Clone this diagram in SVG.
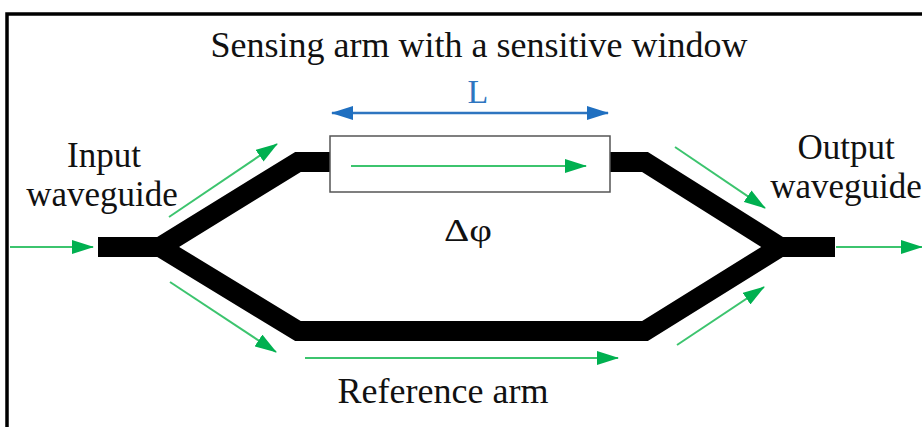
<svg xmlns="http://www.w3.org/2000/svg" width="922" height="427" viewBox="0 0 922 427">
<style>
.t{font-family:"Liberation Serif","Times New Roman",serif;fill:#111;}
.wg{fill:none;stroke:#000;stroke-width:20;stroke-linejoin:miter;}
.g{stroke:#3cc46e;stroke-width:2;fill:none;}
.b{stroke:#2e75c0;stroke-width:2.5;fill:none;}
</style>
<defs>
<marker id="gaL" markerWidth="22" markerHeight="14" refX="21" refY="7" orient="auto" markerUnits="userSpaceOnUse">
<path d="M0,0 L22,7 L0,14 Z" fill="#00b050"/>
</marker>
<marker id="ba" markerWidth="22" markerHeight="14" refX="21" refY="7" orient="auto-start-reverse" markerUnits="userSpaceOnUse">
<path d="M0,0 L22,7 L0,14 Z" fill="#1f6fc0"/>
</marker>
</defs>
<rect x="0" y="0" width="922" height="427" fill="#fff"/>
<path d="M7,427 V14 H922" fill="none" stroke="#000" stroke-width="3.5"/>
<g id="connectors">
<line class="g" x1="10" y1="247" x2="93" y2="247" marker-end="url(#gaL)"/>
<line class="g" x1="169" y1="217" x2="277" y2="144" marker-end="url(#gaL)"/>
<line class="g" x1="170" y1="282" x2="276" y2="352" marker-end="url(#gaL)"/>
<line class="g" x1="675" y1="147" x2="765" y2="208" marker-end="url(#gaL)"/>
<line class="g" x1="677" y1="345" x2="764" y2="287" marker-end="url(#gaL)"/>
<line class="g" x1="836" y1="247" x2="922" y2="247" marker-end="url(#gaL)"/>
<line class="g" x1="305" y1="358" x2="618" y2="358" marker-end="url(#gaL)"/>
<line class="b" x1="332" y1="113" x2="608" y2="113" marker-start="url(#ba)" marker-end="url(#ba)"/>
</g>
<g id="waveguide">
<polyline class="wg" points="98,247 172,247"/>
<polyline class="wg" points="160,247 298,162 332,162"/>
<polyline class="wg" points="160,247 298,331 645,331 780,247"/>
<polyline class="wg" points="608,162 645,162 780,247"/>
<polyline class="wg" points="768,247 835,247"/>
</g>
<g id="window">
<rect x="330" y="136" width="280" height="56" fill="#fff" stroke="#555" stroke-width="1.5"/>
<line class="g" x1="351" y1="166" x2="586" y2="166" marker-end="url(#gaL)"/>
</g>
<g id="labels">
<text class="t" x="479" y="57" font-size="36" text-anchor="middle">Sensing arm with a sensitive window</text>
<text x="478" y="103" font-size="34" text-anchor="middle" font-family="Liberation Serif, serif" fill="#2e75c0">L</text>
<text class="t" x="104" y="167" font-size="35" text-anchor="middle">Input</text>
<text class="t" x="102" y="206" font-size="35" text-anchor="middle">waveguide</text>
<text class="t" x="846" y="159" font-size="35" text-anchor="middle">Output</text>
<text class="t" x="846" y="198" font-size="35" text-anchor="middle">waveguide</text>
<text class="t" x="444" y="241" font-size="31" textLength="48" lengthAdjust="spacingAndGlyphs">Δφ</text>
<text class="t" x="443" y="403" font-size="36" text-anchor="middle">Reference arm</text>
</g>
</svg>
